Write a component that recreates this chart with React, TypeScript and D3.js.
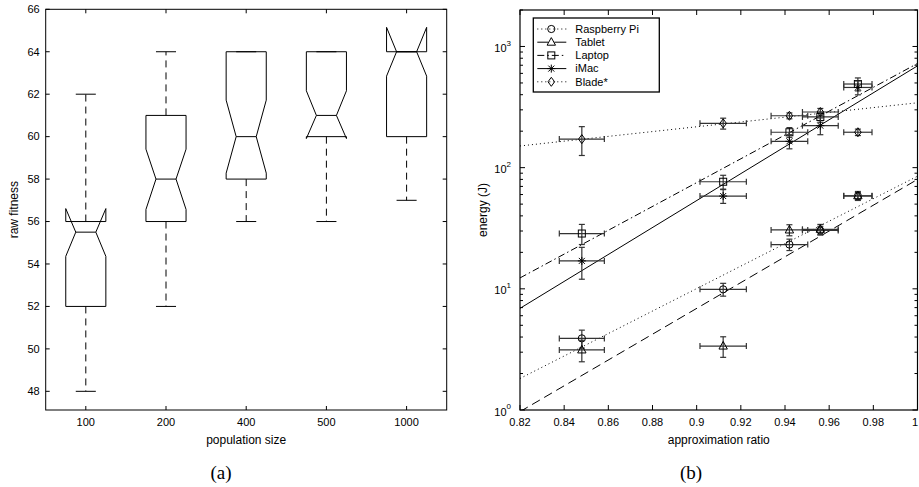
import React from 'react';
import * as d3 from 'd3';

// ---------- (a) boxplot data ----------
const popSizes = ['100', '200', '400', '500', '1000'];
const q1 = [52, 56, 58, 60, 60];
const medians = [55.5, 58, 60, 61, 64];
const q3 = [56, 61, 64, 64, 64];
const whiskerLo = [48, 52, 56, 56, 57];
const whiskerHi = [62, 64, 64, 64, 64];
const notchLo = [54.36, 56.57, 58.28, 59.91, 62.85];
const notchHi = [56.61, 59.41, 61.72, 62.16, 65.15];
const fitnessTicks = [48, 50, 52, 54, 56, 58, 60, 62, 64, 66];

// ---------- (b) energy vs approximation ratio ----------
const ratios = [0.848, 0.912, 0.942, 0.956, 0.973];
const ratioErr = [0.0102, 0.0105, 0.0083, 0.0081, 0.0064];
const seriesNames = ['Raspberry Pi', 'Tablet', 'Laptop', 'iMac', 'Blade*'];
const raspberryPi = [3.9, 9.9, 23.2, 30.3, 58.3];
const raspberryPiErr = [0.66, 1.2, 2.5, 2.5, 4];
const tablet = [3.13, 3.37, 30.6, 31, 58.6];
const tabletErr = [0.63, 0.65, 3.2, 3, 5];
const laptop = [28.6, 76.5, 196, 262, 490];
const laptopErr = [5.4, 10, 18, 25, 60];
const iMac = [17, 58.3, 165, 222, 459];
const iMacErr = [5, 7.6, 22, 35, 60];
const blade = [172, 232, 268, 288, 196];
const bladeErr = [46, 24, 15, 20, 12];
// fitted trend lines: value at ratio 0.82 and at ratio 1.0
const fitRange = [0.82, 1.0];
const raspberryPiFit = [1.82, 85];
const tabletFit = [0.97, 80];
const laptopFit = [12.3, 724];
const iMacFit = [6.9, 692];
const bladeFit = [151, 343];
const ratioTicks = [0.82, 0.84, 0.86, 0.88, 0.9, 0.92, 0.94, 0.96, 0.98, 1];
const energyDecades = [1, 10, 100, 1000];

const FONT = '"Liberation Sans", Arial, Helvetica, sans-serif';
const SERIF = '"Liberation Serif", "DejaVu Serif", serif';

function BoxPanel() {
  const x = d3.scaleLinear().domain([0.5, 5.5]).range([45.7, 446.7]);
  const y = d3.scaleLinear().domain([47.12, 66]).range([410, 9.3]);
  const [x0, x1] = x.range();
  const [yb, yt] = y.range();
  const half = 0.25, inner = 0.125, cap = 0.125;
  return (
    <g>
      {popSizes.map((p, i) => {
        const c = i + 1;
        const L = x(c - half), R = x(c + half), IL = x(c - inner), IR = x(c + inner);
        const pts: [number, number][] = [
          [L, y(q1[i])], [L, y(notchLo[i])], [IL, y(medians[i])], [L, y(notchHi[i])], [L, y(q3[i])],
          [R, y(q3[i])], [R, y(notchHi[i])], [IR, y(medians[i])], [R, y(notchLo[i])], [R, y(q1[i])], [L, y(q1[i])],
        ];
        const line = d3.line()(pts) as string;
        return (
          <g key={p} fill="none" stroke="#000" strokeWidth={1}>
            <line x1={x(c)} x2={x(c)} y1={y(q3[i])} y2={y(whiskerHi[i])} strokeDasharray="7,5" />
            <line x1={x(c)} x2={x(c)} y1={y(q1[i])} y2={y(whiskerLo[i])} strokeDasharray="7,5" />
            <line x1={x(c - cap)} x2={x(c + cap)} y1={y(whiskerHi[i])} y2={y(whiskerHi[i])} />
            <line x1={x(c - cap)} x2={x(c + cap)} y1={y(whiskerLo[i])} y2={y(whiskerLo[i])} />
            <path d={line} />
            <line x1={IL} x2={IR} y1={y(medians[i])} y2={y(medians[i])} />
          </g>
        );
      })}
      <rect x={x0} y={yt} width={x1 - x0} height={yb - yt} fill="none" stroke="#000" strokeWidth={1} />
      {fitnessTicks.map((t) => (
        <g key={t}>
          <line x1={x0} x2={x0 + 4} y1={y(t)} y2={y(t)} stroke="#000" />
          <line x1={x1} x2={x1 - 4} y1={y(t)} y2={y(t)} stroke="#000" />
          <text x={x0 - 6} y={y(t)} dy="0.35em" textAnchor="end" fontSize={11} fontFamily={FONT}>{t}</text>
        </g>
      ))}
      {popSizes.map((p, i) => (
        <g key={p}>
          <line x1={x(i + 1)} x2={x(i + 1)} y1={yb} y2={yb - 4} stroke="#000" />
          <line x1={x(i + 1)} x2={x(i + 1)} y1={yt} y2={yt + 4} stroke="#000" />
          <text x={x(i + 1)} y={422} dy="0.35em" textAnchor="middle" fontSize={11} fontFamily={FONT}>{p}</text>
        </g>
      ))}
      <text x={(x0 + x1) / 2} y={440} dy="0.35em" textAnchor="middle" fontSize={12} fontFamily={FONT}>population size</text>
      <text transform={`translate(14,${(yb + yt) / 2}) rotate(-90)`} dy="0.35em" textAnchor="middle" fontSize={12} fontFamily={FONT}>raw fitness</text>
      <text x={221} y={472} dy="0.35em" textAnchor="middle" fontSize={19} fontFamily={SERIF}>(a)</text>
    </g>
  );
}

function Marker({ kind, cx, cy }: { kind: number; cx: number; cy: number }) {
  const s = { fill: 'none', stroke: '#000', strokeWidth: 1 } as any;
  if (kind === 0) return <circle cx={cx} cy={cy} r={3.6} {...s} />;
  if (kind === 1) return <path d={`M${cx},${cy - 4.6}L${cx + 4.2},${cy + 3}L${cx - 4.2},${cy + 3}Z`} {...s} />;
  if (kind === 2) return <rect x={cx - 3.5} y={cy - 3.5} width={7} height={7} {...s} />;
  if (kind === 3)
    return (
      <g {...s}>
        <line x1={cx - 4} x2={cx + 4} y1={cy} y2={cy} />
        <line x1={cx} x2={cx} y1={cy - 4} y2={cy + 4} />
        <line x1={cx - 3} x2={cx + 3} y1={cy - 3} y2={cy + 3} />
        <line x1={cx - 3} x2={cx + 3} y1={cy + 3} y2={cy - 3} />
      </g>
    );
  return <path d={`M${cx},${cy - 4.5}L${cx + 3.3},${cy}L${cx},${cy + 4.5}L${cx - 3.3},${cy}Z`} {...s} />;
}

function EnergyPanel() {
  const x = d3.scaleLinear().domain([0.82, 1.0]).range([520, 917.5]);
  const y = d3.scaleLog().domain([1, 2000]).range([410, 10]);
  const [x0, x1] = x.range();
  const [yb, yt] = y.range();
  const values = [raspberryPi, tablet, laptop, iMac, blade];
  const errs = [raspberryPiErr, tabletErr, laptopErr, iMacErr, bladeErr];
  const fits = [raspberryPiFit, tabletFit, laptopFit, iMacFit, bladeFit];
  const dashes = ['1,3', '9,5', '7,3,1.5,3', 'none', '1,3'];
  const legendDashes = ['1,3', '11,6,12', '7,3,1.5,3', 'none', '1,3'];
  const minor: number[] = [];
  energyDecades.forEach((d) => {
    for (let k = 2; k <= 9; k++) if (d * k <= 2000) minor.push(d * k);
  });
  const line = d3.line<[number, number]>().x((d) => x(d[0])).y((d) => y(d[1]));
  const legX = 533.3, legY = 18, legW = 126, legH = 74;
  return (
    <g>
      <defs>
        <clipPath id="clipB">
          <rect x={x0} y={yt} width={x1 - x0} height={yb - yt} />
        </clipPath>
      </defs>
      <g clipPath="url(#clipB)">
        {fits.map((f, s) => (
          <path key={s} d={line([[fitRange[0], f[0]], [fitRange[1], f[1]]]) as string} fill="none" stroke="#000" strokeWidth={1} strokeDasharray={dashes[s]} />
        ))}
      </g>
      {values.map((vals, s) => (
        <g key={s}>
          {vals.map((v, i) => {
            const cx = x(ratios[i]), cy = y(v);
            const lo = y(v - errs[s][i]), hi = y(v + errs[s][i]);
            const xl = x(ratios[i] - ratioErr[i]), xr = x(ratios[i] + ratioErr[i]);
            return (
              <g key={i}>
                <g stroke="#333" strokeWidth={1.2} fill="none">
                  <line x1={cx} x2={cx} y1={lo} y2={hi} />
                  <line x1={cx - 3} x2={cx + 3} y1={lo} y2={lo} />
                  <line x1={cx - 3} x2={cx + 3} y1={hi} y2={hi} />
                  <line x1={xl} x2={xr} y1={cy} y2={cy} />
                  <line x1={xl} x2={xl} y1={cy - 3} y2={cy + 3} />
                  <line x1={xr} x2={xr} y1={cy - 3} y2={cy + 3} />
                </g>
                <Marker kind={s} cx={cx} cy={cy} />
              </g>
            );
          })}
        </g>
      ))}
      <rect x={x0} y={yt} width={x1 - x0} height={yb - yt} fill="none" stroke="#000" strokeWidth={1.2} />
      {energyDecades.map((d, i) => (
        <g key={d}>
          <line x1={x0} x2={x0 + 5} y1={y(d)} y2={y(d)} stroke="#000" />
          <line x1={x1} x2={x1 - 5} y1={y(d)} y2={y(d)} stroke="#000" />
          <text x={x0 - 9} y={y(d)} dy="0.5em" textAnchor="end" fontSize={11} fontFamily={FONT}>
            10<tspan fontSize={8} dy="-0.8em">{i}</tspan>
          </text>
        </g>
      ))}
      {minor.map((m) => (
        <g key={m}>
          <line x1={x0} x2={x0 + 3} y1={y(m)} y2={y(m)} stroke="#000" />
          <line x1={x1} x2={x1 - 3} y1={y(m)} y2={y(m)} stroke="#000" />
        </g>
      ))}
      {ratioTicks.map((t, k) => {
        const last = k === ratioTicks.length - 1;
        return (
          <g key={t}>
            <line x1={x(t)} x2={x(t)} y1={yb} y2={yb - 5} stroke="#000" />
            <line x1={x(t)} x2={x(t)} y1={yt} y2={yt + 5} stroke="#000" />
            <text x={last ? 918 : x(t)} y={422} dy="0.35em" textAnchor={last ? 'end' : 'middle'} fontSize={11} fontFamily={FONT}>{String(t)}</text>
          </g>
        );
      })}
      <text x={(x0 + x1) / 2} y={440} dy="0.35em" textAnchor="middle" fontSize={12} fontFamily={FONT}>approximation ratio</text>
      <text transform={`translate(483,${(yb + yt) / 2}) rotate(-90)`} dy="0.35em" textAnchor="middle" fontSize={12} fontFamily={FONT}>energy (J)</text>
      <text x={691} y={472} dy="0.35em" textAnchor="middle" fontSize={19} fontFamily={SERIF}>(b)</text>
      <g>
        <rect x={legX} y={legY} width={legW} height={legH} fill="#fff" stroke="#000" strokeWidth={1.3} />
        {seriesNames.map((n, s) => {
          const ry = legY + 11 + s * 13.2;
          return (
            <g key={n}>
              <line x1={legX + 4} x2={legX + 33} y1={ry} y2={ry} stroke="#000" strokeWidth={1} strokeDasharray={legendDashes[s]} />
              <Marker kind={s} cx={legX + 18} cy={ry} />
              <text x={legX + 42} y={ry} dy="0.35em" fontSize={11} fontFamily={FONT}>{n}</text>
            </g>
          );
        })}
      </g>
    </g>
  );
}

export default function App() {
  return (
    <svg width={919} height={487} style={{ position: 'absolute', left: 0, top: 0, background: '#fff' }}>
      <rect width={919} height={487} fill="#fff" />
      <BoxPanel />
      <EnergyPanel />
    </svg>
  );
}
